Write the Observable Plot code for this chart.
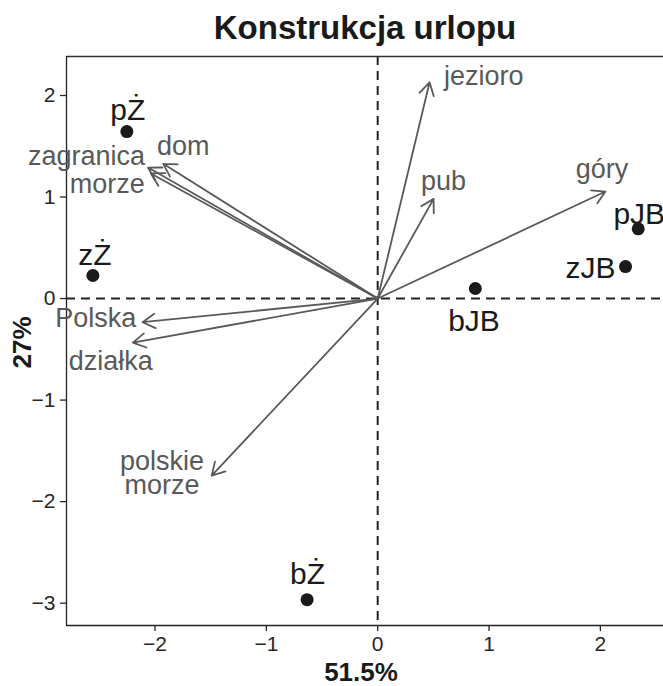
<!DOCTYPE html>
<html>
<head>
<meta charset="utf-8">
<script src="https://cdn.jsdelivr.net/npm/d3@7"></script>
<script src="https://cdn.jsdelivr.net/npm/@observablehq/plot@0.6"></script>
<style>
  html, body { margin: 0; padding: 0; background: #fff; overflow: hidden; }
  #chart svg { display: block; }
</style>
</head>
<body>
<div id="chart"></div>
<script>
const title = "Konstrukcja urlopu";
const xLabel = "51.5%";
const yLabel = "27%";

const xTicks = [-2, -1, 0, 1, 2];
const yTicks = [-3, -2, -1, 0, 1, 2];
const xDomain = [-2.795, 2.567];
const yDomain = [-3.22, 2.384];

// observations (points)
const sites = ["pŻ", "zŻ", "bŻ", "bJB", "zJB", "pJB"];
const siteX = [-2.253, -2.558, -0.634, 0.877, 2.226, 2.34];
const siteY = [1.645, 0.227, -2.966, 0.099, 0.315, 0.687];
const siteLabelX = [-2.244, -2.540, -0.63, 0.865, 1.911, 2.349];
const siteLabelY = [1.852, 0.424, -2.719, -0.222, 0.296, 0.828];

// variables (arrows)
const vars = ["jezioro", "pub", "góry", "dom", "zagranica", "morze", "Polska", "działka", "polskie\nmorze"];
const varX = [0.466, 0.502, 2.046, -1.926, -2.063, -2.037, -2.112, -2.199, -1.491];
const varY = [2.13, 0.982, 1.054, 1.327, 1.29, 1.232, -0.233, -0.434, -1.744];
const varLabelX = [0.952, 0.592, 2.014, -1.746, -2.615, -2.428, -2.533, -2.398, -1.938];
const varLabelY = [2.177, 1.143, 1.258, 1.488, 1.389, 1.11, -0.203, -0.631, -1.731];

const points = sites.map((s, i) => ({name: s, x: siteX[i], y: siteY[i], lx: siteLabelX[i], ly: siteLabelY[i]}));
const arrows = vars.map((v, i) => ({name: v, x: varX[i], y: varY[i], lx: varLabelX[i], ly: varLabelY[i]}));

const grey = "#595959";
const ink = "#1a1a1a";
const fmt = d3.format("d");

const chart = Plot.plot({
  width: 663,
  height: 686,
  marginTop: 56,
  marginLeft: 66,
  marginRight: 0,
  marginBottom: 61,
  style: {fontFamily: "'Liberation Sans', Arial, sans-serif", background: "#fff", overflow: "visible"},
  x: {domain: xDomain},
  y: {domain: yDomain},
  marks: [
    // zero reference lines
    Plot.ruleX([0], {stroke: "#222", strokeWidth: 2, strokeDasharray: "9,6"}),
    Plot.ruleY([0], {stroke: "#222", strokeWidth: 2, strokeDasharray: "9,6"}),
    // panel border (top, left, bottom)
    Plot.ruleY([yDomain[1]], {stroke: "#333", strokeWidth: 1.3}),
    Plot.ruleY([yDomain[0]], {stroke: "#222", strokeWidth: 1.3}),
    Plot.ruleX([xDomain[0]], {stroke: "#222", strokeWidth: 1.3}),
    // arrows
    Plot.arrow(arrows, {x1: () => 0, y1: () => 0, x2: "x", y2: "y", stroke: grey, strokeWidth: 1.8, headLength: 12, headAngle: 60, insetEnd: 0}),
    // variable labels
    Plot.text(arrows, {x: "lx", y: "ly", text: "name", fill: grey, fontSize: 27, lineHeight: 0.88, textAnchor: "middle", lineAnchor: "middle"}),
    // points
    Plot.dot(points, {x: "x", y: "y", r: 6.5, fill: ink, stroke: "none"}),
    Plot.text(points, {x: "lx", y: "ly", text: "name", fill: ink, fontSize: 30, textAnchor: "middle", lineAnchor: "middle"}),
    // axes
    Plot.axisX({ticks: xTicks, tickFormat: fmt, tickSize: 6, tickPadding: 5, fontSize: 21, label: null, color: "#262626", strokeWidth: 1.3}),
    Plot.axisY({ticks: yTicks, tickFormat: fmt, tickSize: 6, tickPadding: 5, fontSize: 21, label: null, color: "#262626", strokeWidth: 1.3}),
    // titles
    Plot.text([title], {frameAnchor: "top", dy: -28, fontSize: 33, fontWeight: "bold", fill: ink, textAnchor: "middle", lineAnchor: "middle"}),
    Plot.text([xLabel], {frameAnchor: "bottom", dx: -4, dy: 47.5, fontSize: 26, fontWeight: "bold", fill: ink, textAnchor: "middle", lineAnchor: "middle"}),
    Plot.text([yLabel], {frameAnchor: "left", dx: -44, dy: 1.5, rotate: -90, fontSize: 26, fontWeight: "bold", fill: ink, textAnchor: "middle", lineAnchor: "middle"})
  ]
});
document.getElementById("chart").appendChild(chart);
</script>
</body>
</html>
